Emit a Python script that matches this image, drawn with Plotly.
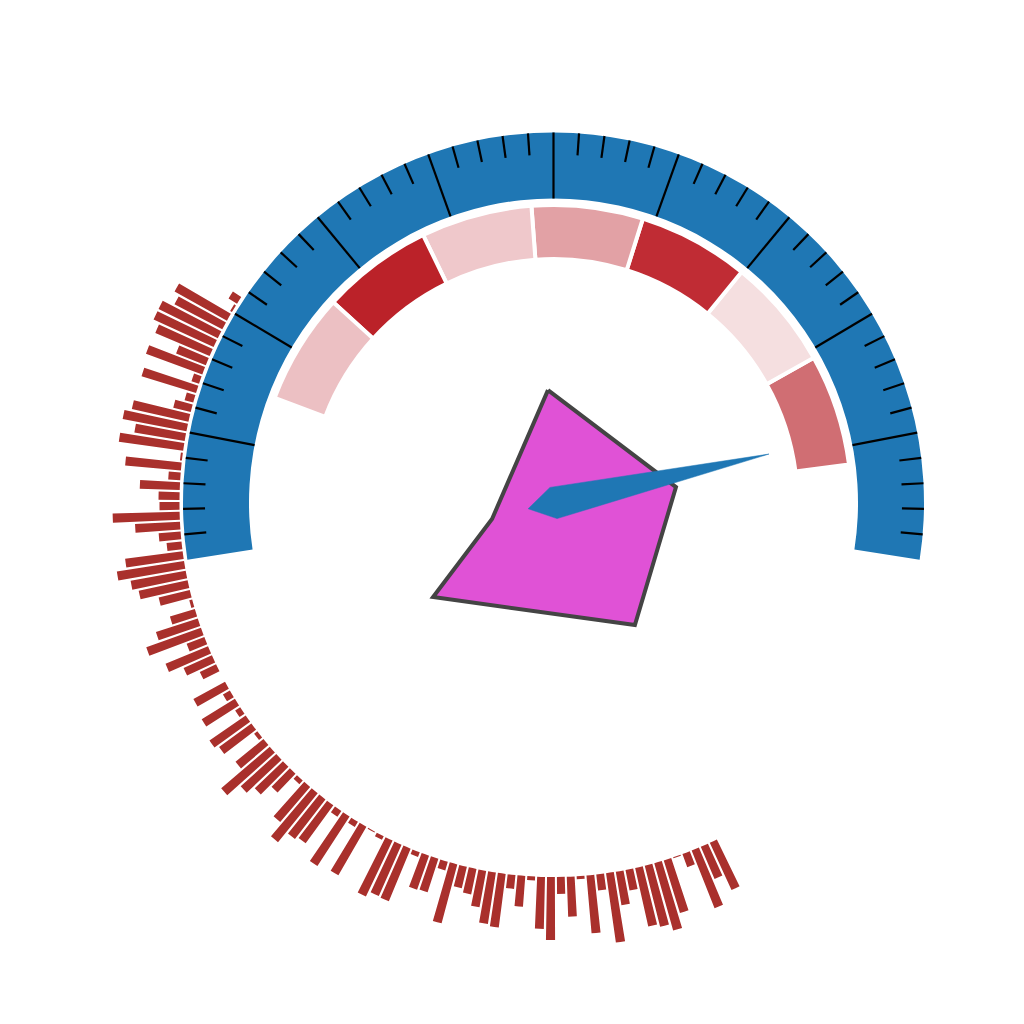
import numpy as np
import plotly.graph_objects as go

# ---------------- data ----------------
# outer radial bars (length of each bar, counter-clockwise from upper-left)
bar_values = [
    10, 2, 60, 54, 66, 66, 59, 32, 60, 8,
    57, 9, 18, 58, 65, 51, 65, 2, 56, 12,
    40, 21, 20, 67, 45, 22, 15, 58, 68, 56,
    50, 32, 3, 26, 44, 58, 19, 46, 31, 18,
    0,
    36, 8, 39, 6, 44, 40, 4, 36, 64, 48,
    39, 26, 5, 46, 63, 50, 47, 7, 59, 6,
    56, 1, 4, 62, 56, 57, 5, 36, 35, 9,
    61, 22, 26, 37, 52, 54, 14, 31, 4, 52,
    63, 17, 40, 3, 58, 16, 70, 34, 21, 60,
    63, 70, 55,
    1,
    14, 62, 35, 52,
]
bar_start_angle = 147.2
bar_end_angle = 295.3

# inner coloured band segments (right to left)
segment_centers = [18.3, 40.0, 61.7, 83.4, 105.1, 126.8, 148.5]
segment_colors = ["#d06e73", "#f5dfe0", "#c02c34", "#e2a1a5",
                  "#efc8cb", "#bb2229", "#ecc0c3"]
segment_width = 21.7

# gauge scale
gauge_min, gauge_max = 0, 100
gauge_start_angle, gauge_end_angle = -8.8, 188.8
major_values = [10, 20, 30, 40, 50, 60, 70, 80, 90]
minor_step = 2
needle_angle = 12.8

# central polygon (theta in degrees, r in px units)
poly_theta = [92.8, 7.4, -56.3, 218.0, 194.6]
poly_r = [113, 123.5, 146.7, 152.8, 63.5]

# ---------------- geometry ----------------
W = H = 1024
CX, CY = 553.5, 503.0
RMAX = 450.0

R_RING_IN, R_RING_OUT = 304.5, 370.5
R_BAR_BASE = 374.0


def val2ang(v):
    return gauge_start_angle + (v - gauge_min) / (gauge_max - gauge_min) * (gauge_end_angle - gauge_start_angle)


fig = go.Figure()

# blue gauge ring
fig.add_trace(go.Barpolar(
    r=[R_RING_OUT - R_RING_IN], base=[R_RING_IN],
    theta=[(gauge_start_angle + gauge_end_angle) / 2],
    width=[gauge_end_angle - gauge_start_angle],
    marker=dict(color="#1f77b4", line=dict(width=0)),
    hoverinfo="skip",
))

# ticks
maj_r, maj_t = [], []
for v in major_values:
    a = val2ang(v)
    maj_r += [R_RING_IN, R_RING_OUT, None]
    maj_t += [a, a, None]
min_r, min_t = [], []
for v in range(gauge_min + minor_step, gauge_max, minor_step):
    if v % 10 == 0:
        continue
    a = val2ang(v)
    min_r += [348.5, R_RING_OUT, None]
    min_t += [a, a, None]
fig.add_trace(go.Scatterpolar(r=maj_r, theta=maj_t, mode="lines",
                              line=dict(color="black", width=2.2), hoverinfo="skip"))
fig.add_trace(go.Scatterpolar(r=min_r, theta=min_t, mode="lines",
                              line=dict(color="black", width=2.2), hoverinfo="skip"))

# coloured segments
fig.add_trace(go.Barpolar(
    r=[54] * len(segment_centers), base=[244] * len(segment_centers),
    theta=segment_centers, width=[segment_width] * len(segment_centers),
    marker=dict(color=segment_colors, line=dict(color="white", width=4)),
    hoverinfo="skip",
))

# outer bars
n = len(bar_values)
bar_step = (bar_end_angle - bar_start_angle) / (n - 1)
bar_theta = [bar_start_angle + bar_step * i for i in range(n)]
fig.add_trace(go.Barpolar(
    r=bar_values, base=[R_BAR_BASE] * n,
    theta=bar_theta, width=[1.2] * n,
    marker=dict(color="#a9302c", line=dict(width=0)),
    hoverinfo="skip",
))

# central polygon
fig.add_trace(go.Scatterpolar(
    r=poly_r + [poly_r[0]], theta=poly_theta + [poly_theta[0]],
    mode="lines", fill="toself", fillcolor="#e052d6",
    line=dict(color="#444444", width=4), hoverinfo="skip",
))

# needle
fig.add_trace(go.Scatterpolar(
    r=[221, 16, 26, 16, 221],
    theta=[needle_angle, needle_angle + 90, needle_angle + 180, needle_angle - 90, needle_angle],
    mode="lines", fill="toself", fillcolor="#1f77b4",
    line=dict(color="#1f77b4", width=0.5), hoverinfo="skip",
))

fig.update_layout(
    width=W, height=H,
    margin=dict(l=0, r=0, t=0, b=0),
    paper_bgcolor="white",
    showlegend=False,
    polar=dict(
        domain=dict(x=[(CX - RMAX) / W, (CX + RMAX) / W],
                    y=[(H - CY - RMAX) / H, (H - CY + RMAX) / H]),
        bgcolor="white",
        barmode="overlay",
        radialaxis=dict(range=[0, RMAX], visible=False, showgrid=False, showline=False),
        angularaxis=dict(visible=False, showgrid=False, showline=False,
                         rotation=0, direction="counterclockwise"),
    ),
)

fig.write_html("out.html")
